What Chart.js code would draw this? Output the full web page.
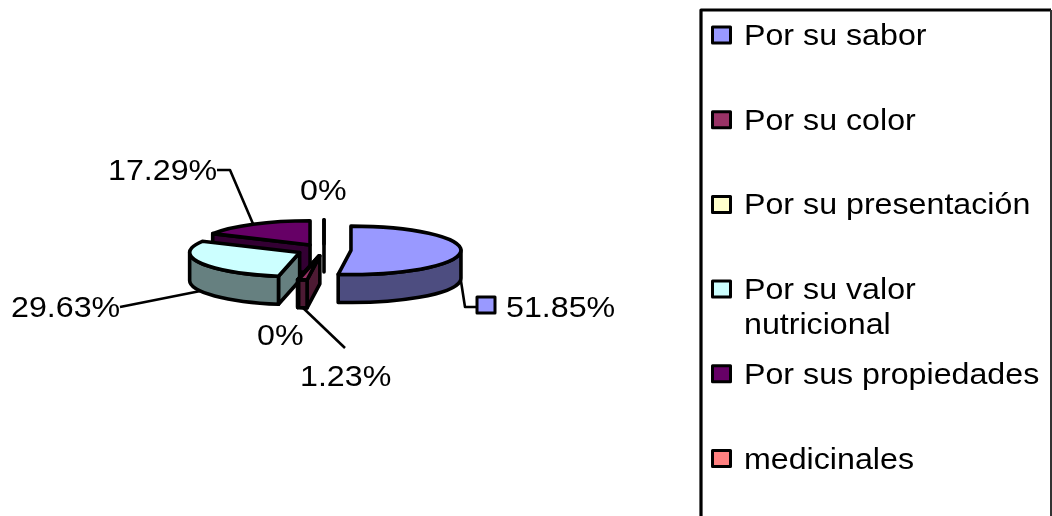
<!DOCTYPE html>
<html>
<head>
<meta charset="utf-8">
<style>
  html, body { margin: 0; padding: 0; background: #fff; }
  canvas { display: block; }
</style>
</head>
<body>
<canvas id="pie" width="1052" height="516"></canvas>
<script src="https://cdn.jsdelivr.net/npm/chart.js@4"></script>
<script>
const categories = [
    'Por su sabor',
    'Por su color',
    'Por su presentación',
    'Por su valor nutricional',
    'Por sus propiedades',
    'medicinales'
];
const percentages = [51.85, 1.23, 0, 29.63, 17.29, 0];
const valueLabels = ['51.85%', '1.23%', '0%', '29.63%', '17.29%', '0%'];
const sliceColors = ['#9999ff', '#993366', '#ffffcc', '#ccffff', '#660066', '#ff8080'];
const sideColors = ['#4d4d80', '#4d1a33', '#808066', '#668080', '#330033', '#804040'];

// how the pie is tilted and pulled apart
const TILT = 0.22;
const DEPTH = 28;
const EXPLODE = 27;
const LINE = 3.6;
const LEADER_LINE = 2.6;
const FONT = '29px "Liberation Sans", Arial, sans-serif';
const TEXT_STRETCH = 1.11;

// where each value label sits: text start, text middle, optional elbow of the leader line
const labelLayout = [
    { x: 506, y: 307, leader: [[465, 307], [476, 307]], swatch: true },
    { x: 300, y: 376, leader: [[345, 348]] },
    { x: 257, y: 335 },
    { x: 11, y: 307, leader: [[120, 307]] },
    { x: 108, y: 170, leader: [[230, 170], [217, 170]] },
    { x: 300, y: 190 }
];

const legendBox = { left: 701, top: 10, right: 1051, bottom: 516, firstRow: 35, rowStep: 84.7, swatchX: 712.5, textX: 744 };

function drawText(ctx, text, x, y) {
    ctx.save();
    ctx.translate(x, y + 2);
    ctx.scale(TEXT_STRETCH, 1);
    ctx.font = FONT;
    ctx.fillStyle = '#000';
    ctx.textBaseline = 'middle';
    ctx.textAlign = 'left';
    ctx.fillText(text, 0, 0);
    ctx.restore();
}

function drawSwatch(ctx, x, y, color) {
    ctx.fillStyle = color;
    ctx.strokeStyle = '#000';
    ctx.lineWidth = 3;
    ctx.fillRect(x, y - 8, 18, 16);
    ctx.strokeRect(x, y - 8, 18, 16);
}

// Flattened position of a slice: the controller's arc pushed out along its middle angle
function sliceGeometry(arc) {
    const mid = (arc.startAngle + arc.endAngle) / 2;
    const offset = arc.options.offset;
    return {
        mid: mid,
        start: arc.startAngle,
        end: arc.endAngle,
        r: arc.outerRadius,
        cx: arc.x + Math.cos(mid) * offset,
        cy: arc.y + Math.sin(mid) * offset * TILT
    };
}

function rimPoint(g, angle) {
    return [g.cx + Math.cos(angle) * g.r, g.cy + Math.sin(angle) * g.r * TILT];
}

function paintPath(ctx, color) {
    ctx.closePath();
    ctx.fillStyle = color;
    ctx.fill();
    ctx.stroke();
}

function drawWall(ctx, g, angle, color) {
    const p = rimPoint(g, angle);
    ctx.beginPath();
    ctx.moveTo(g.cx, g.cy);
    ctx.lineTo(p[0], p[1]);
    ctx.lineTo(p[0], p[1] + DEPTH);
    ctx.lineTo(g.cx, g.cy + DEPTH);
    paintPath(ctx, color);
}

function drawRim(ctx, g, color) {
    const from = Math.max(g.start, 0);
    const to = Math.min(g.end, Math.PI);
    if (to < from) return;
    const rx = g.r;
    const ry = g.r * TILT;
    ctx.beginPath();
    ctx.ellipse(g.cx, g.cy, rx, ry, 0, from, to);
    ctx.ellipse(g.cx, g.cy + DEPTH, rx, ry, 0, to, from, true);
    paintPath(ctx, color);
}

function drawSlice(ctx, g, topColor, sideColor) {
    // walls first, only the ones facing the viewer; an empty slice keeps its wall as a line
    const empty = g.end - g.start < 1e-6;
    if (empty || Math.cos(g.start) < -1e-6) drawWall(ctx, g, g.start, sideColor);
    if (!empty && Math.cos(g.end) > 1e-6) drawWall(ctx, g, g.end, sideColor);
    drawRim(ctx, g, sideColor);
    ctx.beginPath();
    ctx.moveTo(g.cx, g.cy);
    ctx.ellipse(g.cx, g.cy, g.r, g.r * TILT, 0, g.start, g.end);
    paintPath(ctx, topColor);
}

const tiltedPie = {
    id: 'tiltedPie',
    beforeDatasetsDraw(chart) {
        const ctx = chart.ctx;
        const arcs = chart.getDatasetMeta(0).data.map(function (arc, i) {
            return { index: i, geo: sliceGeometry(arc) };
        });
        // back slices first so the front ones cover them
        const order = arcs.slice().sort(function (a, b) {
            return Math.sin(a.geo.mid) - Math.sin(b.geo.mid);
        });
        ctx.save();
        ctx.strokeStyle = '#000';
        ctx.lineWidth = LINE;
        ctx.lineJoin = 'round';
        order.forEach(function (item) {
            drawSlice(ctx, item.geo, sliceColors[item.index], sideColors[item.index]);
        });
        arcs.forEach(function (item) {
            drawValueLabel(ctx, item.index, item.geo);
        });
        drawLegend(ctx, chart);
        ctx.restore();
        return false;
    }
};

function drawValueLabel(ctx, i, g) {
    const layout = labelLayout[i];
    if (layout.leader) {
        const p = rimPoint(g, g.mid);
        ctx.beginPath();
        ctx.moveTo(p[0], p[1] + (Math.sin(g.mid) > 0 ? DEPTH : 0));
        layout.leader.forEach(function (pt) {
            ctx.lineTo(pt[0], pt[1]);
        });
        ctx.lineWidth = LEADER_LINE;
        ctx.strokeStyle = '#000';
        ctx.stroke();
        ctx.lineWidth = LINE;
    }
    if (layout.swatch) drawSwatch(ctx, 477, layout.y - 2, sliceColors[i]);
    drawText(ctx, valueLabels[i], layout.x, layout.y);
    ctx.lineWidth = LINE;
}

function drawLegend(ctx, chart) {
    const b = legendBox;
    ctx.save();
    ctx.strokeStyle = '#000';
    ctx.lineWidth = 3.2;
    ctx.beginPath();
    ctx.moveTo(b.left, b.bottom);
    ctx.lineTo(b.left, b.top);
    ctx.lineTo(b.right, b.top);
    ctx.stroke();
    ctx.lineWidth = 2;
    ctx.strokeStyle = '#333';
    ctx.beginPath();
    ctx.moveTo(b.right, b.top);
    ctx.lineTo(b.right, b.bottom);
    ctx.stroke();
    chart.data.labels.forEach(function (label, i) {
        const y = b.firstRow + i * b.rowStep;
        drawSwatch(ctx, b.swatchX, y, sliceColors[i]);
        if (label === 'Por su valor nutricional') {
            drawText(ctx, 'Por su valor', b.textX, y);
            drawText(ctx, 'nutricional', b.textX, y + 35);
        } else {
            drawText(ctx, label, b.textX, y);
        }
    });
    ctx.restore();
}

new Chart(document.getElementById('pie'), {
    type: 'pie',
    data: {
        labels: categories,
        datasets: [{
            data: percentages,
            backgroundColor: sliceColors,
            borderWidth: 0,
            offset: EXPLODE,
            radius: 110
        }]
    },
    options: {
        responsive: false,
        animation: false,
        layout: { padding: { right: 404, bottom: 16 } },
        plugins: {
            legend: { display: false },
            tooltip: { enabled: false }
        }
    },
    plugins: [tiltedPie]
});
</script>
</body>
</html>
